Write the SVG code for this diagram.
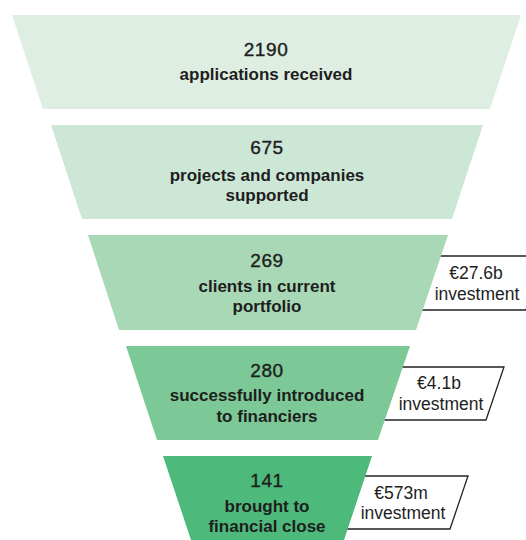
<svg xmlns="http://www.w3.org/2000/svg" width="526" height="540" viewBox="0 0 526 540">
<style>
.num{font-family:"Liberation Sans",Arial,sans-serif;font-size:19px;fill:#1e1e1e;stroke:#1e1e1e;stroke-width:0.4;text-anchor:middle;letter-spacing:0.6px}
.lbl{font-family:"Liberation Sans",Arial,sans-serif;font-size:17px;font-weight:bold;fill:#1e1e1e;text-anchor:middle}
.inv{font-family:"Liberation Sans",Arial,sans-serif;font-size:17.5px;fill:#1e1e1e;text-anchor:middle}
.box{fill:#ffffff;stroke:#222222;stroke-width:1.3}
</style>
<rect width="526" height="540" fill="#ffffff"/>
<g id="connectors">
<polygon class="box" points="425,256 544,256 526,310 405,310"/>
<polygon class="box" points="385,367 504,367 486,420 365,420"/>
<polygon class="box" points="348,476 468,476 450,529 330,529"/>
</g>
<g id="stage1">
<polygon points="12,15 521,15 490,109 43,109" fill="#dfeee2"/>
<text class="num" x="266" y="56">2190</text>
<text class="lbl" x="266" y="80">applications received</text>
</g>
<g id="stage2">
<polygon points="51,125 483,125 452,219 82,219" fill="#cde7d6"/>
<text class="num" x="267" y="154">675</text>
<text class="lbl" x="267" y="181">projects and companies</text>
<text class="lbl" x="267" y="201">supported</text>
</g>
<g id="stage3">
<polygon points="88,235 448,235 416,330 119,330" fill="#a8d8b6"/>
<text class="num" x="267" y="267">269</text>
<text class="lbl" x="267" y="292">clients in current</text>
<text class="lbl" x="267" y="312">portfolio</text>
</g>
<g id="stage4">
<polygon points="126,346 410,346 378,440 157,440" fill="#7cc896"/>
<text class="num" x="267" y="377">280</text>
<text class="lbl" x="267" y="401">successfully introduced</text>
<text class="lbl" x="267" y="422">to financiers</text>
</g>
<g id="stage5">
<polygon points="163,456 372,456 344,540 191,540" fill="#4dba7b"/>
<text class="num" x="267" y="487">141</text>
<text class="lbl" x="267" y="512">brought to</text>
<text class="lbl" x="267" y="532">financial close</text>
</g>
<g id="investments">
<text class="inv" x="476" y="279">€27.6b</text>
<text class="inv" x="477" y="300">investment</text>
<text class="inv" x="439" y="389">€4.1b</text>
<text class="inv" x="441" y="410">investment</text>
<text class="inv" x="401" y="499">€573m</text>
<text class="inv" x="403" y="519">investment</text>
</g>
</svg>
